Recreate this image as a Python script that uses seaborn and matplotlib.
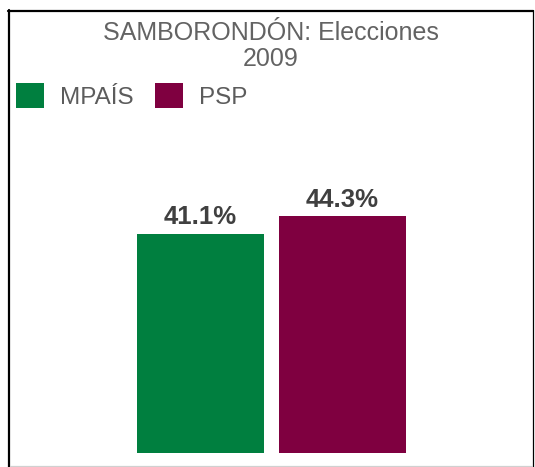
import matplotlib
matplotlib.use("Agg")
import pandas as pd
import seaborn as sns
import matplotlib.pyplot as plt
from matplotlib.lines import Line2D
from matplotlib.patches import Patch

# Data
partidos = ["MPAÍS", "PSP"]
votos = [41.1, 44.3]
colores = ["#007F3F", "#7F0040"]

df = pd.DataFrame({"Partido": partidos, "Votos": votos})

sns.set_theme(style="white")
plt.rcParams["font.family"] = ["Liberation Sans", "DejaVu Sans"]

W, H = 535, 467
fig = plt.figure(figsize=(W / 100, H / 100), dpi=100)

# axes spans inner frame area; baseline at y=453 px
ax = fig.add_axes([8 / W, (H - 453) / H, 525 / W, 443 / H])
sns.barplot(data=df, x="Partido", y="Votos", hue="Partido", palette=colores,
            width=0.894, saturation=1, linewidth=0, legend=False, ax=ax)

px = 142.0
ax.set_xlim(-(200.5 - 8) / px, 1 + (533 - 342.5) / px)
ax.set_ylim(0, 443 / 5.34)
ax.axis("off")

for i, v in enumerate(votos):
    ax.annotate(f"{v:.1f}%", (i, v), xytext=(0, 6.5), textcoords="offset points",
                ha="center", va="baseline", fontsize=18.5, fontweight="bold",
                color="#404040")

# title
fig.text(271 / W, 1 - 46 / H, "SAMBORONDÓN: Elecciones\n2009", ha="center",
         va="center", fontsize=18, color="#636363", linespacing=1.12)

# legend
handles = [Patch(facecolor=c, edgecolor="none", label=p) for p, c in zip(partidos, colores)]
fig.legend(handles=handles, loc="center left", bbox_to_anchor=(16 / W, 1 - 96 / H),
           ncol=2, frameon=False, fontsize=17.5, handlelength=1.16, handleheight=1.16,
           handletextpad=0.66, columnspacing=0.85, labelcolor="#5c5c5c",
           borderaxespad=0, borderpad=0)

# outer frame
def fline(xs, ys, **kw):
    fig.add_artist(Line2D([x / W for x in xs], [1 - y / H for y in ys],
                          transform=fig.transFigure, **kw))

fline([8.5, 8.5], [10, 467], color="black", linewidth=1.6)
fline([8, 533], [11, 11], color="black", linewidth=1.6)
fline([532.5, 532.5], [10, 467], color="black", linewidth=0.9)
fline([10, 532], [465.5, 465.5], color="#d0d0d0", linewidth=0.9)

fig.savefig("out.png", dpi=100)
